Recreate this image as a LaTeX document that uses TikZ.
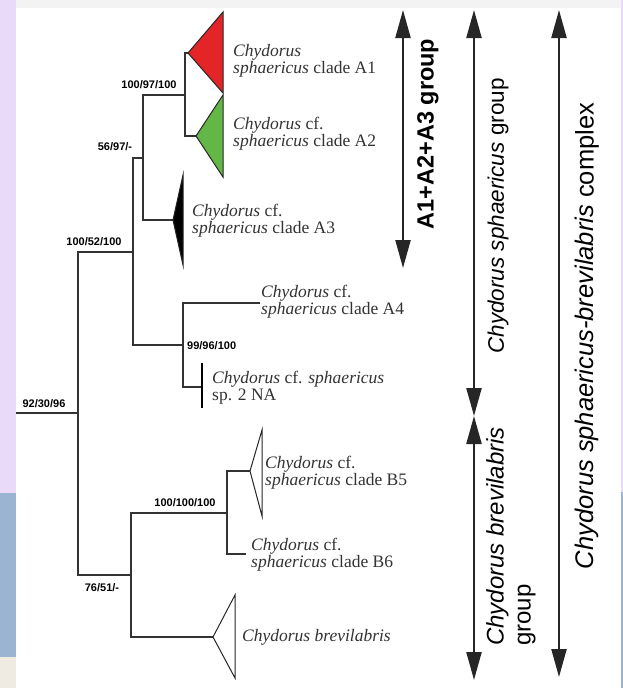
\documentclass[tikz,border=0pt]{standalone}
\usepackage{fontspec}
\setmainfont{Liberation Serif}
\setsansfont{Liberation Sans}
\usetikzlibrary{arrows.meta}
\definecolor{cladeRed}{HTML}{E42527}
\definecolor{cladeGreen}{HTML}{63B746}
\definecolor{stripLilac}{HTML}{E8DAF8}
\definecolor{stripBlue}{HTML}{9BB4D1}
\definecolor{stripSand}{HTML}{EFEBE2}
\definecolor{topGrey}{HTML}{F3F3F3}
\tikzset{
    branch/.style={draw=black!80, line width=1.6pt},
    clade/.style={draw=black!85, line width=1pt},
    taxon/.style={anchor=west, inner sep=0pt, align=left, text=black!80,
                  font=\fontsize{17.5}{17}\selectfont},
    support/.style={inner sep=0pt, font=\sffamily\bfseries\fontsize{11}{11}\selectfont},
    grouparrow/.style={draw=black!85, line width=2.2pt,
                  {Triangle[width=15pt,length=28pt]}-{Triangle[width=15pt,length=28pt]}},
    grouplabel/.style={rotate=90, inner sep=0pt},
}

\begin{document}
\begin{tikzpicture}[x=1pt, y=-1pt]
    \useasboundingbox (0,0) rectangle (623,688);

    % backdrop strips
    \fill[white] (0,0) rectangle (623,688);
    \fill[topGrey] (16,0) rectangle (621,8);
    \fill[stripLilac] (0,0) rectangle (16,493);
    \fill[stripBlue] (0,493) rectangle (16,657);
    \fill[stripSand] (0,657) rectangle (16,688);
    \fill[stripLilac] (621,0) rectangle (623,492);
    \fill[stripBlue] (621,492) rectangle (623,688);

    % internal nodes
    \coordinate (root) at (16,413);
    \coordinate (n1) at (78,413);
    \coordinate (n2) at (133,252);
    \coordinate (n3) at (143,158);
    \coordinate (n4) at (185,95);
    \coordinate (n5) at (183,345);
    \coordinate (n6) at (131,575);
    \coordinate (n7) at (227,513);

    % tips
    \coordinate (tA1) at (188,53);
    \coordinate (tA2) at (196,136);
    \coordinate (tA3) at (173,220);
    \coordinate (tA4) at (260,303);
    \coordinate (tNA) at (202,387);
    \coordinate (tB5) at (250,471);
    \coordinate (tB6) at (246,554);
    \coordinate (tBr) at (213,637);

    % branches
    \draw[branch] (root) -- (n1);
    \draw[branch] (n1) |- (n2) (n1) |- (n6);
    \draw[branch] (n2) |- (n3) (n2) |- (n5);
    \draw[branch] (n3) |- (n4) (n3) |- (tA3);
    \draw[branch] (n4) |- (tA1) (n4) |- (tA2);
    \draw[branch] (n5) |- (tA4) (n5) |- (tNA);
    \draw[branch] (n6) |- (n7) (n6) |- (tBr);
    \draw[branch] (n7) |- (tB5) (n7) |- (tB6);

    % collapsed clades
    \draw[clade, fill=cladeRed] (tA1) -- ++(35,-41) -- ++(0,81) -- cycle;
    \draw[clade, fill=cladeGreen] (tA2) -- ++(27,-41) -- ++(0,82) -- cycle;
    \draw[clade, fill=black] (tA3) -- ++(10,-45) -- ++(0,90) -- cycle;
    \draw[clade, fill=white] (tB5) -- ++(12,-41) -- ++(0,86) -- cycle;
    \draw[clade, fill=white] (tBr) -- ++(22,-42) -- ++(0,83) -- cycle;
    \draw[line width=2pt] (tNA) ++(0,-24) -- ++(0,45);

    % taxa
    \node[taxon] (labA1) at (233,61) {\textit{Chydorus}\\\textit{sphaericus} clade A1};
    \node[taxon] (labA2) at (233,134) {\textit{Chydorus} cf.\\\textit{sphaericus} clade A2};
    \node[taxon] (labA3) at (192,221) {\textit{Chydorus} cf.\\\textit{sphaericus} clade A3};
    \node[taxon] (labA4) at (261,302) {\textit{Chydorus} cf.\\\textit{sphaericus} clade A4};
    \node[taxon] (labNA) at (212,388) {\textit{Chydorus} cf. \textit{sphaericus}\\sp. 2 NA};
    \node[taxon] (labB5) at (265,473) {\textit{Chydorus} cf.\\\textit{sphaericus} clade B5};
    \node[taxon] (labB6) at (251,555) {\textit{Chydorus} cf.\\\textit{sphaericus} clade B6};
    \node[taxon] (labBr) at (242,637) {\textit{Chydorus brevilabris}};

    % support values
    \node[support] (s1) at (44,404) {92/30/96};
    \node[support] (s2) at (94,242) {100/52/100};
    \node[support] (s3) at (115,147) {56/97/-};
    \node[support] (s4) at (149,85) {100/97/100};
    \node[support, anchor=west] (s5) at (187,346) {99/96/100};
    \node[support] (s6) at (185,503) {100/100/100};
    \node[support] (s7) at (102,588) {76/51/-};

    % group ranges
    \coordinate (rAtop) at (403,10);
    \coordinate (rAbot) at (403,268);
    \coordinate (rStop) at (474,10);
    \coordinate (rSbot) at (474,416);
    \coordinate (rBtop) at (474,416);
    \coordinate (rBbot) at (474,680);
    \coordinate (rCtop) at (559,10);
    \coordinate (rCbot) at (559,677);
    \draw[grouparrow] (rAtop) -- (rAbot);
    \draw[grouparrow] (rStop) -- (rSbot);
    \draw[grouparrow] (rBtop) -- (rBbot);
    \draw[grouparrow] (rCtop) -- (rCbot);

    \node[grouplabel, font=\sffamily\bfseries\fontsize{23.5}{23.5}\selectfont] (labGA) at (428,134) {A1+A2+A3 group};
    \node[grouplabel, font=\sffamily\fontsize{22.5}{22.5}\selectfont] (labGS) at (498,216) {\textit{Chydorus sphaericus} group};
    \node[grouplabel, anchor=north west, align=left, font=\sffamily\fontsize{24}{27}\selectfont] (labGB) at (486,646) {\textit{Chydorus brevilabris}\\group};
    \node[grouplabel, font=\sffamily\fontsize{25.5}{25.5}\selectfont] (labGC) at (587,336) {\textit{Chydorus sphaericus-brevilabris} complex};
\end{tikzpicture}
\end{document}
